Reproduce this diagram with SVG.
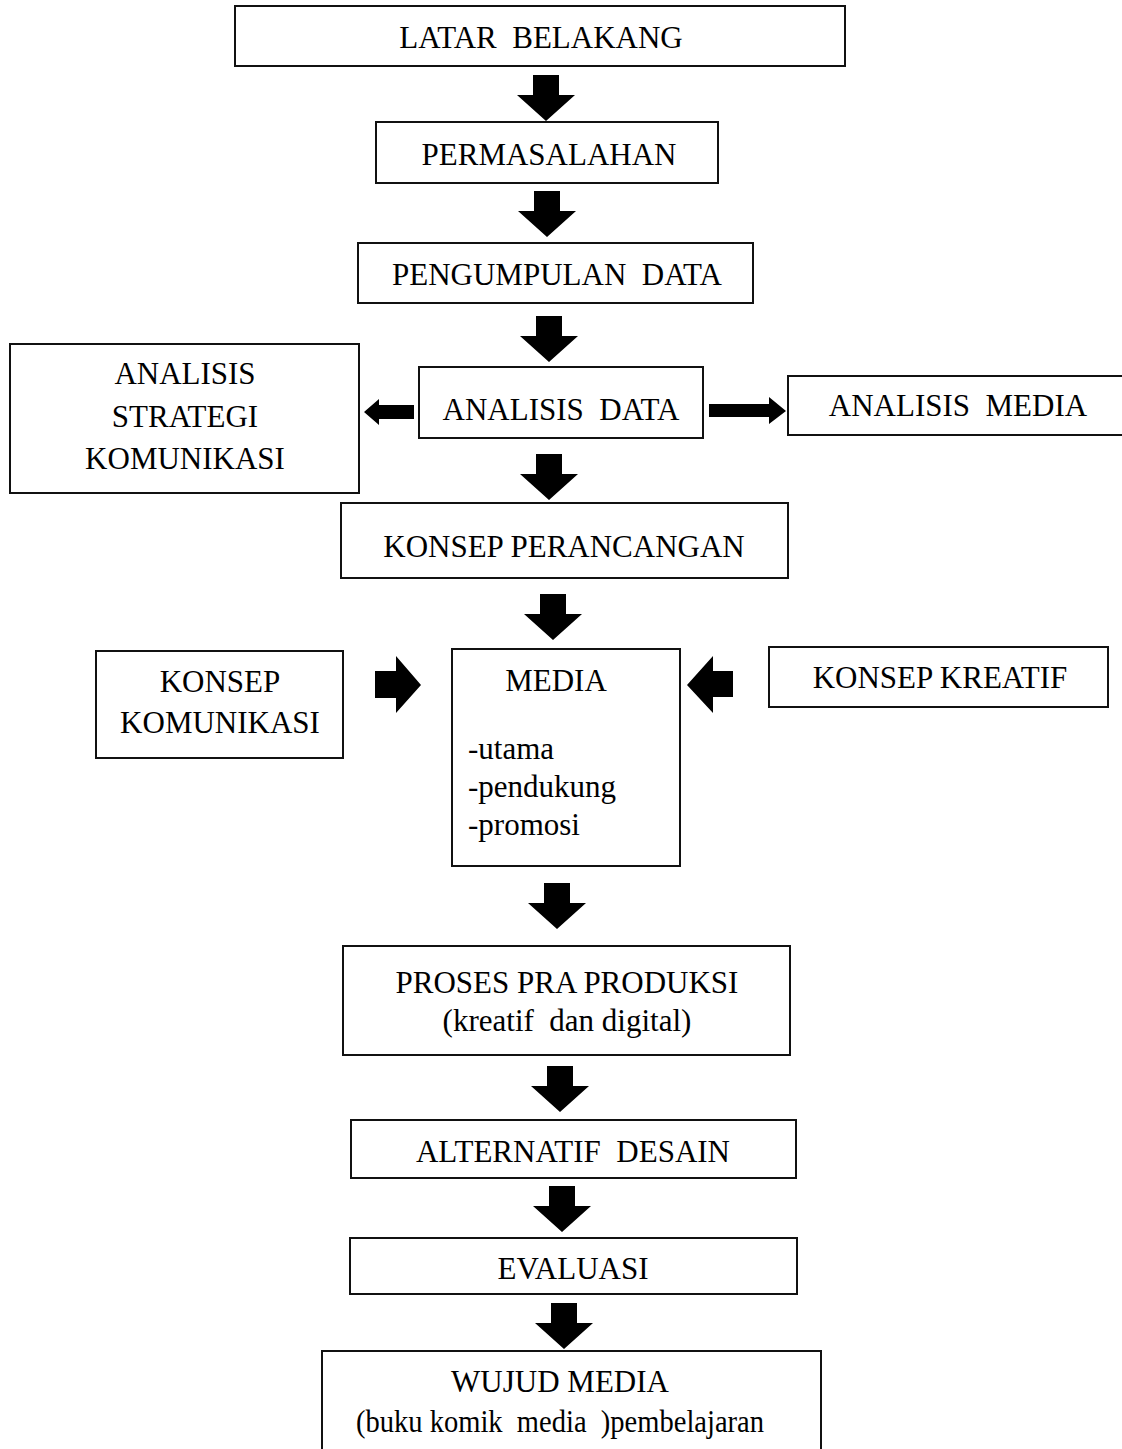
<svg xmlns="http://www.w3.org/2000/svg" xmlns:xlink="http://www.w3.org/1999/xlink" width="1122" height="1449" viewBox="0 0 1122 1449">
<style>
.box{fill:#fff;stroke:#111;stroke-width:2}
.t{font-family:"Liberation Serif","Times New Roman",serif;font-size:31px;fill:#000;white-space:pre}
.c{text-anchor:middle}
.arr{fill:#000}
</style>
<defs>
<path id="down" d="M-13,-46 L13,-46 L13,-26 L29,-26 L0,0 L-29,-26 L-13,-26 Z"/>
</defs>
<rect width="1122" height="1449" fill="#fff"/>
<g id="connectors" class="arr">
<use xlink:href="#down" href="#down" x="546" y="121"/>
<use xlink:href="#down" href="#down" x="547" y="237"/>
<use xlink:href="#down" href="#down" x="549" y="362"/>
<use xlink:href="#down" href="#down" x="549" y="500"/>
<use xlink:href="#down" href="#down" x="553" y="640"/>
<use xlink:href="#down" href="#down" x="557" y="929"/>
<use xlink:href="#down" href="#down" x="560" y="1112"/>
<use xlink:href="#down" href="#down" x="562" y="1232"/>
<use xlink:href="#down" href="#down" x="564" y="1349"/>
<path d="M414,405 L379,405 L379,399 L364,412 L379,425 L379,419 L414,419 Z"/>
<path d="M709,404 L769,404 L769,397 L786,411 L769,424 L769,417 L709,417 Z"/>
<path d="M375,671 L396,671 L396,656 L421,685 L396,713 L396,698 L375,698 Z"/>
<path d="M733,671 L713,671 L713,656 L687,685 L713,713 L713,697 L733,697 Z"/>
</g>
<g id="latar">
<rect class="box" x="235" y="6" width="610" height="60"/>
<text class="t c" x="541" y="48">LATAR  BELAKANG</text>
</g>
<g id="permasalahan">
<rect class="box" x="376" y="122" width="342" height="61"/>
<text class="t c" x="549" y="165">PERMASALAHAN</text>
</g>
<g id="pengumpulan">
<rect class="box" x="358" y="243" width="395" height="60"/>
<text class="t c" x="557" y="285">PENGUMPULAN  DATA</text>
</g>
<g id="analisis-data">
<rect class="box" x="419" y="367" width="284" height="71"/>
<text class="t c" x="561" y="420">ANALISIS  DATA</text>
</g>
<g id="analisis-strategi">
<rect class="box" x="10" y="344" width="349" height="149"/>
<text class="t c" x="185" y="384">ANALISIS</text>
<text class="t c" x="185" y="427">STRATEGI</text>
<text class="t c" x="185" y="469">KOMUNIKASI</text>
</g>
<g id="analisis-media">
<rect class="box" x="788" y="376" width="340" height="59"/>
<text class="t c" x="958" y="416">ANALISIS  MEDIA</text>
</g>
<g id="konsep-perancangan">
<rect class="box" x="341" y="503" width="447" height="75"/>
<text class="t c" x="564" y="557">KONSEP PERANCANGAN</text>
</g>
<g id="konsep-komunikasi">
<rect class="box" x="96" y="651" width="247" height="107"/>
<text class="t c" x="220" y="692">KONSEP</text>
<text class="t c" x="220" y="733">KOMUNIKASI</text>
</g>
<g id="media">
<rect class="box" x="452" y="649" width="228" height="217"/>
<text class="t c" x="556" y="691">MEDIA</text>
<text class="t" x="468" y="759">-utama</text>
<text class="t" x="468" y="797">-pendukung</text>
<text class="t" x="468" y="835">-promosi</text>
</g>
<g id="konsep-kreatif">
<rect class="box" x="769" y="647" width="339" height="60"/>
<text class="t c" x="940" y="688">KONSEP KREATIF</text>
</g>
<g id="proses">
<rect class="box" x="343" y="946" width="447" height="109"/>
<text class="t c" x="567" y="993">PROSES PRA PRODUKSI</text>
<text class="t c" x="567" y="1031">(kreatif  dan digital)</text>
</g>
<g id="alternatif">
<rect class="box" x="351" y="1120" width="445" height="58"/>
<text class="t c" x="573" y="1162">ALTERNATIF  DESAIN</text>
</g>
<g id="evaluasi">
<rect class="box" x="350" y="1238" width="447" height="56"/>
<text class="t c" x="573" y="1279">EVALUASI</text>
</g>
<g id="wujud">
<rect class="box" x="322" y="1351" width="499" height="110"/>
<text class="t c" x="560" y="1392">WUJUD MEDIA</text>
<text class="t c" x="560" y="1432" textLength="408" lengthAdjust="spacingAndGlyphs">(buku komik  media  )pembelajaran</text>
</g>
</svg>
